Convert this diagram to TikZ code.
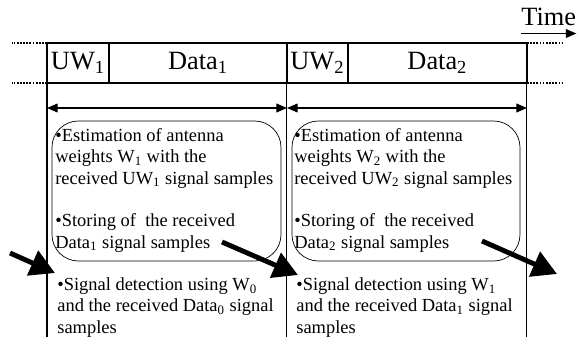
\documentclass[tikz,border=0pt]{standalone}
\usepackage{fontspec}
\setmainfont{Liberation Serif}
\usetikzlibrary{arrows.meta,positioning}

\newcommand{\sbs}[1]{\textsubscript{#1}}

\begin{document}
\begin{tikzpicture}[x=0.02cm,y=-0.02cm,
  cell/.style={draw,line width=1pt,minimum height=0.8cm,inner sep=0pt,outer sep=0pt,
    font=\fontsize{15}{18}\selectfont},
  dots/.style={line width=1pt,dash pattern=on 1pt off 0.8pt},
  span/.style={semithick,{Triangle[length=6pt,width=5pt]}-{Triangle[length=6pt,width=5pt]}},
  % base anchor sits on the last line of the note
  note/.style={anchor=base west,align=left,inner sep=0pt,
    font=\fontsize{10.5}{12.2}\selectfont},
  bigarrow/.style={line width=2.8pt,-{Triangle[length=14pt,width=15pt]}}]
\useasboundingbox (0,0) rectangle (579,345);

% Time axis
\node[anchor=base west,inner xsep=0pt,inner ysep=4.5pt,font=\fontsize{15}{18}\selectfont]
  (time) at (521,25) {Time};
\draw[thick,-{Triangle[length=6pt,width=5pt]}] (time.south west) -- (time.south east);

% Frame
\node[cell,minimum width=1.24cm,anchor=north west] (uw1) at (47,43) {UW\sbs{1}};
\node[cell,minimum width=3.56cm,right=0pt of uw1] (data1) {Data\sbs{1}};
\node[cell,minimum width=1.22cm,right=0pt of data1] (uw2) {UW\sbs{2}};
\node[cell,minimum width=3.58cm,right=0pt of uw2] (data2) {Data\sbs{2}};

% Dotted continuation
\draw[dots] (uw1.north west) -- ++(-35,0);
\draw[dots] (uw1.south west) -- ++(-35,0);
\draw[dots] (data2.north east) -- ++(35,0);
\draw[dots] (data2.south east) -- ++(35,0);

% Frame boundaries
\draw[semithick] (uw1.south west) -- ++(0,254) coordinate (b0);
\draw[semithick] (uw2.south west) -- ++(0,254) coordinate (b1);
\draw[semithick] (data2.south east) -- ++(0,254) coordinate (b2);

\coordinate (s0) at (47,108);
\coordinate (s1) at (287,108);
\coordinate (s2) at (527,108);
\draw[span] (s0) -- (s1);
\draw[span] (s1) -- (s2);

% Processing during frame 1
\draw[rounded corners=15pt] (52,121) rectangle (281,261);
\node[note] (est1) at (55,184) {\textbullet Estimation of antenna\\
  weights W\sbs{1} with the\\ received UW\sbs{1} signal samples};
\node[note] (sto1) at (55,248) {\textbullet Storing of~ the received\\
  Data\sbs{1} signal samples};
\node[note] (det1) at (57,333) {\textbullet Signal detection using W\sbs{0}\\
  and the received Data\sbs{0} signal\\ samples};

% Processing during frame 2
\draw[rounded corners=15pt] (292,121) rectangle (520,261);
\node[note] (est2) at (294,184) {\textbullet Estimation of antenna\\
  weights W\sbs{2} with the\\ received UW\sbs{2} signal samples};
\node[note] (sto2) at (294,248) {\textbullet Storing of~ the received\\
  Data\sbs{2} signal samples};
\node[note] (det2) at (296,333) {\textbullet Signal detection using W\sbs{1}\\
  and the received Data\sbs{1} signal\\ samples};

% Hand-over arrows
\coordinate (a0) at (10,253);
\coordinate (t0) at (55,273);
\coordinate (a1) at (222,242);
\coordinate (t1) at (298,275);
\coordinate (a2) at (482,241);
\coordinate (t2) at (557,274);
\draw[bigarrow] (a0) -- (t0);
\draw[bigarrow] (a1) -- (t1);
\draw[bigarrow] (a2) -- (t2);
\end{tikzpicture}
\end{document}
